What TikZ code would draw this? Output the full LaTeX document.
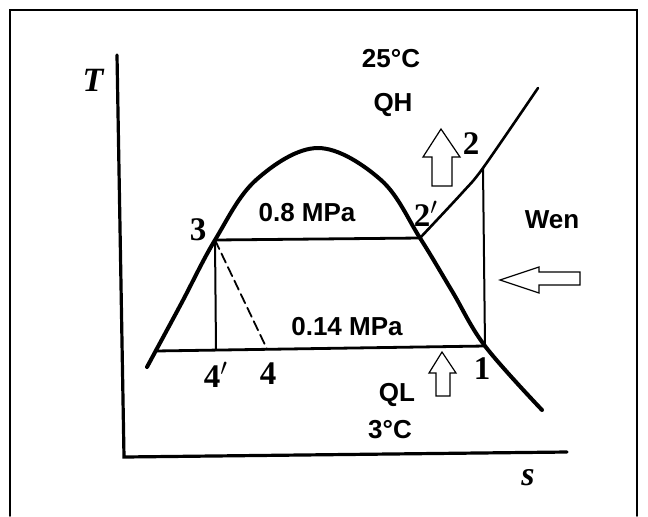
\documentclass[tikz,border=0pt]{standalone}
\usepackage{fontspec}
\setmainfont{Liberation Serif}
\newfontfamily\labelsans{Liberation Sans}
\usetikzlibrary{positioning}

\begin{document}
\begin{tikzpicture}[x=0.5pt, y=-0.5pt, line cap=round]
\tikzstyle{sanslbl}=[font=\labelsans\bfseries\fontsize{13}{15}\selectfont, inner sep=0pt]
\tikzstyle{ptlbl}=[font=\bfseries\fontsize{16.5}{18}\selectfont, inner sep=0pt]
\tikzstyle{axlbl}=[font=\bfseries\itshape\fontsize{17}{19}\selectfont, inner sep=0pt]
\tikzstyle{hollow}=[draw, line width=0.6pt, fill=white, line join=miter]
\useasboundingbox (0,0) rectangle (648,516);
% frame
\draw[line width=0.9pt] (10,516) -- (10,10) -- (637,10) -- (637,516);
% axes
\coordinate (Ttop) at (117,55);
\coordinate (O) at (124,457);
\coordinate (send) at (567,452);
\draw[line width=1.6pt] (Ttop) -- (O) -- (send);
\node[axlbl] (T) at (93,80) {T};
\node[axlbl] (s) at (528,478) {s};
% state points
\coordinate (p3) at (215,240);
\coordinate (p2p) at (420,238);
\coordinate (p1) at (485,346);
\coordinate (p2) at (483,168);
\coordinate (p4p) at (216,350);
\coordinate (p4) at (267,349);
\coordinate (liq) at (155,351);
% saturation dome
\draw[line width=2pt] plot[smooth, tension=0.6] coordinates {(147,367) (181,304) (p3)
  (256,180) (318,148) (381,180) (p2p) (452,291) (p1) (542,410)};
% superheated line
\draw[line width=1.3pt] plot[smooth, tension=0.5] coordinates {(p2p) (462,193) (p2) (538,88)};
% pressure lines
\draw[line width=1.4pt] (p3) -- (p2p);
\draw[line width=1.4pt] (liq) -- (p1);
\draw[line width=1pt] (p3) -- (p4p);
\draw[line width=1pt] (p1) -- (p2);
\draw[line width=0.9pt, dash pattern=on 5pt off 2.5pt] (p3) -- (p4);
% point labels
\node[ptlbl] (l3) at (198,230) {3};
\node[ptlbl] (l2p) at (426,214) {2$'$};
\node[ptlbl] (l2) at (471,144) {2};
\node[ptlbl] (l1) at (482,369) {1};
\node[ptlbl] (l4p) at (216,375) {4$'$};
\node[ptlbl] (l4) at (268,374) {4};
% heat and work arrows
\draw[hollow] (441,129) -- (460,157) -- (452,157) -- (452,186) -- (432,186) -- (432,157) -- (423,157) -- cycle;
\draw[hollow] (500,280) -- (539,267) -- (539,272) -- (580,272) -- (580,285) -- (539,285) -- (539,293) -- cycle;
\draw[hollow] (442,352) -- (456,373) -- (450,373) -- (450,396) -- (436,396) -- (436,373) -- (429,373) -- cycle;
% texts
\node[sanslbl] (tH) at (391,59) {25°C};
\node[sanslbl] (QH) at (393,105) {QH};
\node[sanslbl] (hp) at (307,213) {0.8 MPa};
\node[sanslbl] (Wen) at (552,220) {Wen};
\node[sanslbl] (lp) at (347,327) {0.14 MPa};
\node[sanslbl] (QL) at (397,395) {QL};
\node[sanslbl] (tL) at (390,430) {3°C};
\end{tikzpicture}
\end{document}
